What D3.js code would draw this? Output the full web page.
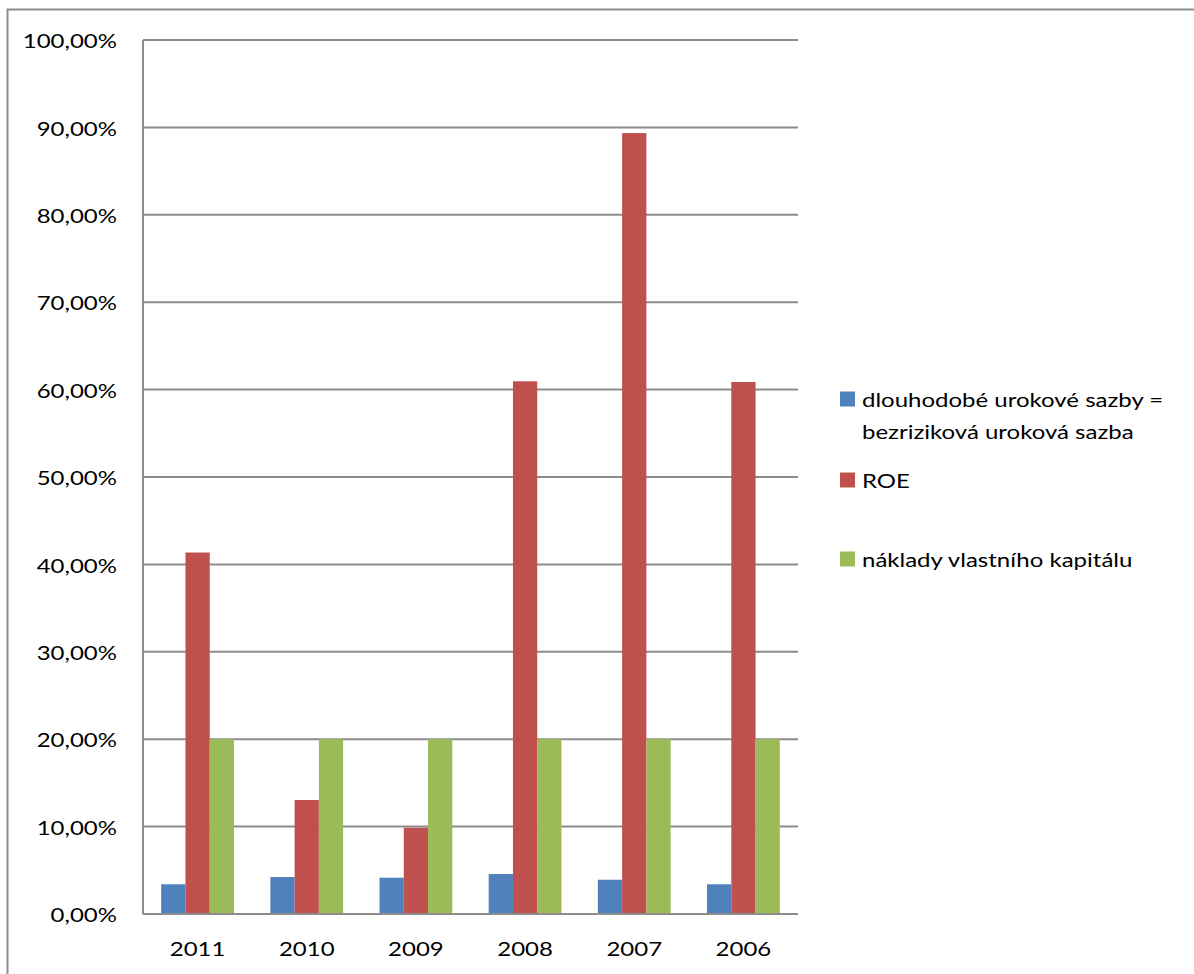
<!DOCTYPE html>
<html>
<head>
<meta charset="utf-8">
<script src="https://cdn.jsdelivr.net/npm/d3@7"></script>
<style>
  html, body { margin: 0; padding: 0; background: #fff; }
  svg { display: block; }
  text { font-family: Lato, "Open Sans", sans-serif; fill: #000; }
</style>
</head>
<body>
<svg id="chart" width="1194" height="974"></svg>
<script>
// Years shown on the category axis
const years = ["2011", "2010", "2009", "2008", "2007", "2006"];
// Series values in percent
const riskFreeRate = [3.40, 4.23, 4.15, 4.57, 3.92, 3.40];
const roe = [41.36, 13.04, 9.87, 60.95, 89.35, 60.87];
const costOfEquity = [20, 20, 20, 20, 20, 20];
const seriesNames = [
  ["dlouhodobé urokové sazby =", "bezriziková uroková sazba"],
  ["ROE"],
  ["náklady vlastního kapitálu"]
];
const seriesColors = ["#4F81BD", "#C0504D", "#9BBB59"];
const yTicks = [0, 10, 20, 30, 40, 50, 60, 70, 80, 90, 100];

const series = [riskFreeRate, roe, costOfEquity];

const svg = d3.select("#chart");
const plot = { left: 143, right: 798, top: 40, bottom: 914 };
const stretch = 1.2; // horizontal text stretch

// Chart frame
svg.append("path")
  .attr("d", "M7.5,1000 V9.5 H1200")
  .attr("fill", "none")
  .attr("stroke", "#8c8c8c")
  .attr("stroke-width", 2);

const y = d3.scaleLinear().domain([0, 100]).range([plot.bottom, plot.top]);
const x = d3.scaleBand().domain(years).range([plot.left, plot.right])
  .paddingInner(1.5 / 4.5).paddingOuter(0.75 / 4.5);
const xs = d3.scaleBand().domain(d3.range(series.length)).range([0, x.bandwidth()]);

const locale = d3.formatLocale({ decimal: ",", thousands: " ", grouping: [3], currency: ["", " Kč"] });
const pct = locale.format(".2%");

// Horizontal gridlines
svg.append("g")
  .selectAll("line")
  .data(yTicks.filter(d => d > 0))
  .join("line")
  .attr("x1", plot.left).attr("x2", plot.right)
  .attr("y1", d => y(d)).attr("y2", d => y(d))
  .attr("stroke", "#8c8c8c")
  .attr("stroke-width", 2);

// Y axis labels
const yAxis = svg.append("g")
  .attr("transform", `translate(${plot.left},0)`)
  .call(d3.axisLeft(y).tickValues(yTicks).tickSize(0).tickPadding(0).tickFormat(d => pct(d / 100)));
yAxis.select(".domain").remove();
yAxis.selectAll("text")
  .attr("x", null)
  .attr("dy", null)
  .attr("dominant-baseline", "central")
  .attr("font-size", 20)
  .attr("font-family", null)
  .attr("transform", `translate(-26,0) scale(${stretch},1)`);

// Bars
svg.append("g")
  .selectAll("g")
  .data(series)
  .join("g")
  .attr("fill", (d, i) => seriesColors[i])
  .each(function (vals, si) {
    d3.select(this).selectAll("rect")
      .data(vals)
      .join("rect")
      .attr("x", (v, i) => x(years[i]) + xs(si))
      .attr("width", xs.bandwidth())
      .attr("y", v => y(v))
      .attr("height", v => y(0) - y(v));
  });

// Axis lines
svg.append("line")
  .attr("x1", plot.left).attr("x2", plot.left)
  .attr("y1", plot.top).attr("y2", plot.bottom)
  .attr("stroke", "#8c8c8c").attr("stroke-width", 2);

const xAxis = svg.append("g")
  .attr("transform", `translate(0,${plot.bottom})`)
  .call(d3.axisBottom(x).tickSize(0).tickPadding(0));
xAxis.select(".domain")
  .attr("d", `M${plot.left},0H${plot.right}`)
  .attr("stroke", "#8c8c8c").attr("stroke-width", 2);
xAxis.selectAll("text")
  .attr("y", null)
  .attr("dy", null)
  .attr("dominant-baseline", "central")
  .attr("font-size", 20)
  .attr("font-family", null)
  .attr("transform", `translate(0,34) scale(${stretch},1)`);

// Legend
const legendRows = [399, 480, 559];
const legend = svg.append("g");
seriesNames.forEach((lines, i) => {
  const g = legend.append("g").attr("transform", `translate(840,${legendRows[i]})`);
  g.append("rect")
    .attr("x", 0).attr("y", -7.5)
    .attr("width", 15).attr("height", 15)
    .attr("fill", seriesColors[i]);
  lines.forEach((t, li) => {
    g.append("text")
      .attr("transform", `translate(22,${li * 32}) scale(${stretch},1)`)
      .attr("dominant-baseline", "central")
      .attr("font-size", 20)
      .text(t);
  });
});
</script>
</body>
</html>
